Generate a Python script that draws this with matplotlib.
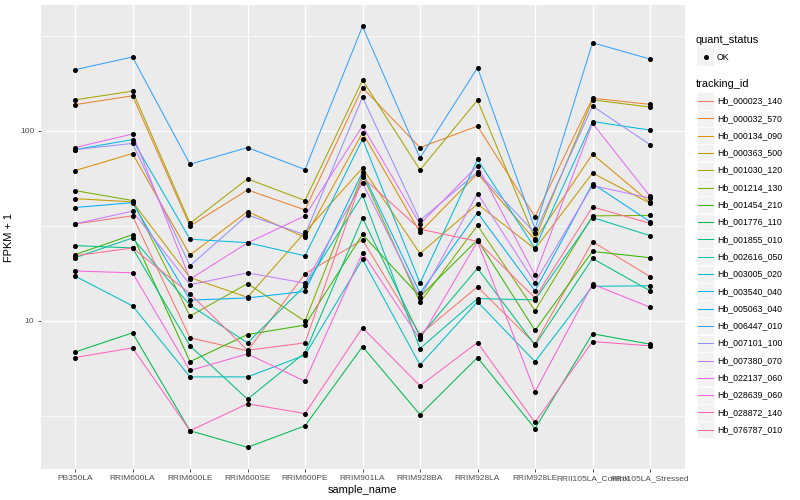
import matplotlib
matplotlib.use("Agg")
import matplotlib.pyplot as plt
from matplotlib.lines import Line2D
from matplotlib.patches import Rectangle
from matplotlib.ticker import FixedLocator, NullFormatter

plt.rcParams['font.family'] = ['Liberation Sans', 'DejaVu Sans']

samples = ["PB350LA", "RRIM600LA", "RRIM600LE", "RRIM600SE", "RRIM600PE", "RRIM901LA",
           "RRIM928BA", "RRIM928LA", "RRIM928LE", "RRII105LA_Control", "RRII105LA_Stressed"]

tracking_ids = ["Hb_000023_140", "Hb_000032_570", "Hb_000134_090", "Hb_000363_500",
                "Hb_001030_120", "Hb_001214_130", "Hb_001454_210", "Hb_001776_110",
                "Hb_001855_010", "Hb_002616_050", "Hb_003005_020", "Hb_003540_040",
                "Hb_005063_040", "Hb_006447_010", "Hb_007101_100", "Hb_007380_070",
                "Hb_022137_060", "Hb_028639_060", "Hb_028872_140", "Hb_076787_010"]

colors = ["#F8766D", "#EA8331", "#D89000", "#C09B00", "#A3A500", "#7CAE00", "#39B600",
          "#00BB4E", "#00BF7D", "#00C1A3", "#00BFC4", "#00BAE0", "#00B0F6", "#35A2FF",
          "#9590FF", "#C77CFF", "#E76BF3", "#FA62DB", "#FF62BC", "#FF6C91"]

# FPKM + 1, one list per tracking_id, in sample order
fpkm = {
    "Hb_000023_140": [32.4, 35.7, 8.14, 6.95, 17.7, 26.7, 8.47, 15.1, 7.57, 26.1, 17.1],
    "Hb_000032_570": [137.5, 153, 31.6, 48.9, 38.4, 169, 81.7, 106, 35.3, 148.6, 138],
    "Hb_000134_090": [61.8, 76, 22.2, 37.6, 27.5, 97.7, 29.3, 59.6, 26.7, 75.5, 42],
    "Hb_000363_500": [44, 42.3, 16.9, 13.3, 29.3, 63.8, 22.6, 41.2, 23.9, 60, 41.6],
    "Hb_001030_120": [145.6, 162, 32.6, 55.9, 43, 185, 62.3, 145, 27.1, 145.6, 133.5],
    "Hb_001214_130": [48.5, 43, 10.6, 15.7, 9.97, 58.8, 12.5, 31.8, 11.3, 35.7, 35.9],
    "Hb_001454_210": [22.3, 28.4, 6.1, 8.47, 9.5, 28.5, 13.4, 26.7, 8.9, 23.2, 21.5],
    "Hb_001776_110": [6.85, 8.65, 2.64, 2.16, 2.8, 7.32, 3.21, 6.41, 2.71, 8.55, 7.54],
    "Hb_001855_010": [24.9, 24.2, 7.39, 3.87, 6.8, 34.8, 8.27, 18.9, 7.44, 21.3, 14.4],
    "Hb_002616_050": [21.5, 27.3, 12.1, 7.66, 15.3, 45.9, 7.15, 13.1, 12.9, 35, 28.1],
    "Hb_003005_020": [17.2, 12, 5.07, 5.07, 6.6, 21.1, 5.86, 12.6, 6.1, 15.2, 15.3],
    "Hb_003540_040": [79.7, 90, 26.9, 25.8, 22.0, 90.5, 15.8, 70.7, 24.1, 112, 101],
    "Hb_005063_040": [39.5, 41.9, 12.85, 13.2, 14.3, 60.6, 14.0, 37.1, 14.4, 52.8, 33.3],
    "Hb_006447_010": [210, 245, 66.8, 81.7, 62.6, 355, 72, 215, 30.5, 291, 239],
    "Hb_007101_100": [79.7, 85.9, 19.5, 36.1, 28.4, 150.5, 33.8, 60.6, 29, 135, 84.7],
    "Hb_007380_070": [32.4, 37.8, 15.5, 17.9, 15.8, 53.3, 13.2, 46.8, 15.9, 51.5, 44.3],
    "Hb_022137_060": [81.7, 96.3, 16.6, 25.7, 35.7, 106, 32.3, 65.5, 17.4, 109.6, 45.3],
    "Hb_028639_060": [18.3, 17.9, 5.48, 6.7, 4.81, 22.8, 8.0, 26.2, 4.23, 15.6, 11.8],
    "Hb_028872_140": [6.41, 7.21, 2.64, 3.66, 3.25, 9.2, 4.55, 7.69, 2.92, 7.78, 7.39],
    "Hb_076787_010": [22.0, 24.2, 13.9, 7.0, 7.66, 57, 30.4, 26.2, 13.2, 39.8, 32.6],
}

W, H = 800, 500
fig = plt.figure(figsize=(W / 100, H / 100), dpi=100)
ax = fig.add_axes([40.5 / W, 1 - 469 / H, 644 / W, 464 / H])
ax.set_facecolor("#EBEBEB")
for s in ax.spines.values():
    s.set_visible(False)

x = list(range(len(samples)))
for tid, col in zip(tracking_ids, colors):
    ax.plot(x, fpkm[tid], color=col, lw=0.75, zorder=3)
for tid in tracking_ids:
    ax.plot(x, fpkm[tid], ls="none", marker="o", ms=2.6, color="black", zorder=4)

ax.set_yscale("log")
ax.set_ylim(1.66, 460)
ax.set_xlim(-0.6, len(samples) - 0.4)

ax.yaxis.set_major_locator(FixedLocator([10, 100]))
ax.yaxis.set_minor_locator(FixedLocator([10 ** 0.5, 10 ** 1.5, 10 ** 2.5]))
ax.yaxis.set_minor_formatter(NullFormatter())
ax.set_yticklabels(["10", "100"])
ax.set_xticks(x)
ax.set_xticklabels(samples)

ax.grid(which="major", color="white", lw=1.0, zorder=0)
ax.grid(which="minor", axis="y", color="white", lw=0.5, zorder=0)
ax.set_axisbelow(True)
ax.tick_params(which="major", length=2.5, width=0.6, color="#333333",
               labelcolor="#4D4D4D", labelsize=6.0, pad=2)
ax.tick_params(which="minor", length=0)

ax.set_xlabel("sample_name", fontsize=7.9, labelpad=2)
ax.set_ylabel("FPKM + 1", fontsize=7.9, labelpad=4)


def fx(px):
    return px / W


def fy(py):
    return 1 - py / H


# legends
fig.text(fx(696), fy(40), "quant_status", fontsize=7.9, va="center", ha="left")
fig.add_artist(Rectangle((fx(697), fy(65.5)), 17 / W, 17 / H, transform=fig.transFigure,
                         facecolor="#F2F2F2", edgecolor="none"))
fig.add_artist(Line2D([fx(705.5)], [fy(57)], marker="o", ms=2.6, color="black",
                      transform=fig.transFigure))
fig.text(fx(717), fy(57), "OK", fontsize=6.3, va="center", ha="left")

fig.text(fx(696), fy(84), "tracking_id", fontsize=7.9, va="center", ha="left")
step = 17.3
for i, (tid, col) in enumerate(zip(tracking_ids, colors)):
    yc = 101 + i * step
    fig.add_artist(Rectangle((fx(697), fy(yc + 8.5)), 17 / W, 17 / H,
                             transform=fig.transFigure, facecolor="#F2F2F2",
                             edgecolor="white", lw=0.5))
    fig.add_artist(Line2D([fx(698), fx(713)], [fy(yc), fy(yc)], color=col, lw=0.75,
                          transform=fig.transFigure))
    fig.text(fx(717), fy(yc), tid, fontsize=6.3, va="center", ha="left")

fig.savefig("out.png", dpi=100)
